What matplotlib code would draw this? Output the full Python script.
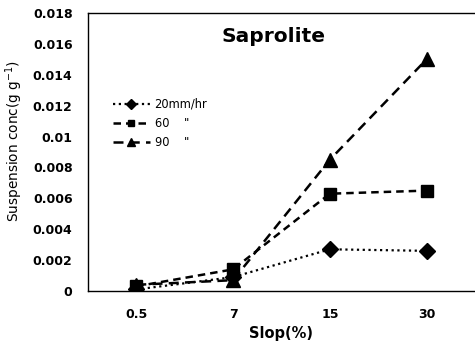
import matplotlib
matplotlib.use("Agg")
import matplotlib.pyplot as plt
import numpy as np

slopes = ["0.5", "7", "15", "30"]
r20 = [0.0001, 0.0009, 0.0027, 0.0026]
r60 = [0.0003, 0.0014, 0.0063, 0.0065]
r90 = [0.0004, 0.0007, 0.0085, 0.0150]
yticks = [0, 0.002, 0.004, 0.006, 0.008, 0.01, 0.012, 0.014, 0.016, 0.018]
ytick_labels = ["0", "0.002", "0.004", "0.006", "0.008", "0.01",
                "0.012", "0.014", "0.016", "0.018"]

plt.rcParams['font.family'] = ['DejaVu Sans']
plt.rcParams['mathtext.default'] = 'regular'

fig = plt.figure(figsize=(4.75, 3.47), dpi=100)
ax = fig.add_axes([0.185, 0.1614, 0.815, 0.8011])

x = np.arange(len(slopes))
ax.plot(x, r20, color='black', lw=1.6, linestyle=(0, (1, 1.6)),
        marker='D', ms=8, label='20mm/hr')
ax.plot(x, r60, color='black', lw=1.8, linestyle=(0, (3, 2)),
        marker='s', ms=8, label='60    "')
ax.plot(x, r90, color='black', lw=1.8, linestyle=(0, (4, 2.5)),
        marker='^', ms=10, label='90    "')

ax.set_xlim(-0.5, 3.5)
ax.set_ylim(0, 0.018)
ax.set_xticks(x)
ax.set_xticklabels(slopes, fontsize=9, fontweight='bold')
ax.set_yticks(yticks)
ax.set_yticklabels(ytick_labels, fontsize=9, fontweight='bold')
ax.tick_params(length=0, pad=11)
ax.tick_params(axis='x', pad=12)

ax.spines['right'].set_visible(False)
for s in ['left', 'bottom', 'top']:
    ax.spines[s].set_linewidth(1.0)

ax.set_xlabel("Slop(%)", fontsize=10.5, fontweight='bold', labelpad=4)
ax.set_ylabel("Suspension conc(g g$^{-1}$)", fontsize=9.8)
ax.yaxis.set_label_coords(-0.163, 0.54)
ax.text(0.48, 0.914, "Saprolite", transform=ax.transAxes, ha='center',
        va='center', fontsize=14.5, fontweight='bold')

leg = ax.legend(loc='upper left', bbox_to_anchor=(0.053, 0.712), frameon=False,
                fontsize=8.3, handlelength=3.2, markerscale=0.6,
                labelspacing=0.55, handletextpad=0.4, borderaxespad=0)

fig.savefig("out.png", dpi=100)
